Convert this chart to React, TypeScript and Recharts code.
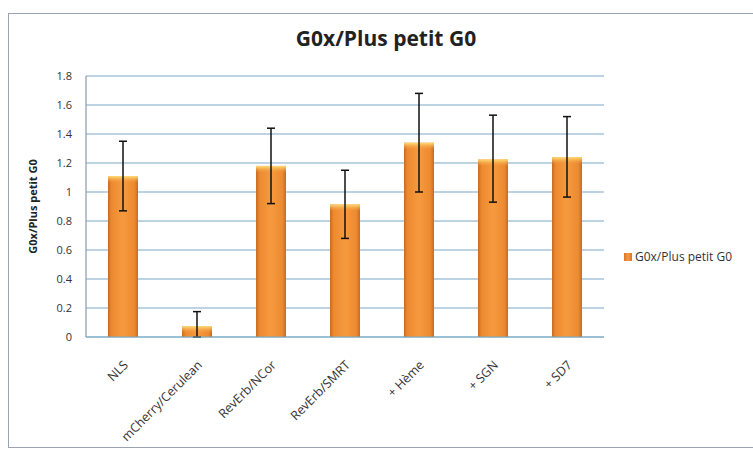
import React from 'react';
import { BarChart, Bar, XAxis, YAxis, CartesianGrid, ErrorBar, Legend } from 'recharts';

const categories = ['NLS', 'mCherry/Cerulean', 'RevErb/NCor', 'RevErb/SMRT', '+ Hème', '+ SGN', '+ SD7'];
const values = [1.11, 0.075, 1.18, 0.915, 1.34, 1.225, 1.24];
const errLow = [0.24, 0.075, 0.26, 0.235, 0.34, 0.295, 0.275];
const errHigh = [0.24, 0.1, 0.26, 0.235, 0.34, 0.305, 0.28];
const yTicks = [0, 0.2, 0.4, 0.6, 0.8, 1, 1.2, 1.4, 1.6, 1.8];
const seriesName = 'G0x/Plus petit G0';
const title = 'G0x/Plus petit G0';
const yTitle = 'G0x/Plus petit G0';

const data = categories.map((c, i) => ({ name: c, value: values[i], err: [errLow[i], errHigh[i]] }));

const FONT = '"Open Sans", Lato, sans-serif';

const BarShape = (props: any) => {
  const { x, y, width, height } = props;
  if (!height || height <= 0) return null;
  const hl = Math.min(7, height);
  return (
    <g>
      <rect x={x} y={y} width={width} height={height} fill="url(#barGrad)" />
      <rect x={x} y={y} width={width} height={hl} fill="url(#topGrad)" />
    </g>
  );
};

const XTick = (props: any) => {
  const { x, y, payload } = props;
  return (
    <g transform={`translate(${x + 3},${y + 18})`}>
      <text x={0} y={0} dy={4} textAnchor="end" transform="rotate(-45)" fontSize={12.5} fill="#333" fontFamily={FONT}>
        {payload.value}
      </text>
    </g>
  );
};

const YLabel = (props: any) => {
  const vb = props.viewBox || { x: 0, y: 0, width: 0, height: 0 };
  const cx = 37;
  const cy = vb.y + vb.height / 2;
  return (
    <text x={cx} y={cy} transform={`rotate(-90, ${cx}, ${cy})`} textAnchor="middle" fontSize={11} fontWeight="bold" fill="#222" fontFamily={FONT}>
      {yTitle}
    </text>
  );
};

const LegendContent = () => (
  <div style={{ display: 'flex', alignItems: 'center', fontFamily: FONT, fontSize: 12, color: '#333', whiteSpace: 'nowrap' }}>
    <span style={{ display: 'inline-block', width: 8, height: 8, background: 'linear-gradient(90deg,#d9762a,#f79a40,#d9762a)', marginRight: 3 }} />
    <span>{seriesName}</span>
  </div>
);

export default function App() {
  return (
    <div style={{ position: 'absolute', left: 0, top: 0, width: 753, height: 450, overflow: 'hidden', background: '#fff' }}>
      <div style={{ position: 'absolute', left: 8, top: 13, width: 760, height: 435, border: '1px solid #9aa4b0', boxSizing: 'border-box' }} />
      <div style={{ position: 'absolute', left: 236, top: 24, width: 300, textAlign: 'center', fontFamily: FONT, fontWeight: 'bold', fontSize: 21, color: '#222' }}>
        {title}
      </div>
      <div style={{ position: 'absolute', left: 0, top: 0 }}>
        <BarChart width={753} height={450} data={data} margin={{ top: 76, right: 149, left: 0, bottom: 0 }} barSize={30}>
          <defs>
            <linearGradient id="barGrad" x1="0" y1="0" x2="1" y2="0">
              <stop offset="0%" stopColor="#c96a22" />
              <stop offset="12%" stopColor="#ec8a30" />
              <stop offset="50%" stopColor="#f79a3e" />
              <stop offset="88%" stopColor="#ec8a30" />
              <stop offset="100%" stopColor="#c96a22" />
            </linearGradient>
            <linearGradient id="topGrad" x1="0" y1="0" x2="0" y2="1">
              <stop offset="0%" stopColor="#fde07a" />
              <stop offset="100%" stopColor="#f79a3e" stopOpacity={0} />
            </linearGradient>
          </defs>
          <CartesianGrid horizontal vertical={false} stroke="#7aaac6" strokeWidth={1.2} />
          <XAxis dataKey="name" interval={0} tick={<XTick />} tickLine={false} axisLine={{ stroke: '#7aaac6', strokeWidth: 1.2 }} height={113} />
          <YAxis
            width={86}
            domain={[0, 1.8]}
            ticks={yTicks}
            interval={0}
            tickSize={0}
            tickMargin={14}
            tickLine={false}
            axisLine={{ stroke: '#8a9aa8', strokeWidth: 1.2 }}
            tick={{ fontSize: 11, fill: '#333', fontFamily: FONT }}
            label={<YLabel />}
          />
          <Legend layout="vertical" align="center" verticalAlign="middle" wrapperStyle={{ position: 'absolute', left: 624, top: 248, width: 140 }} content={<LegendContent />} />
          <Bar dataKey="value" name={seriesName} shape={<BarShape />} isAnimationActive={false}>
            <ErrorBar dataKey="err" width={4} stroke="#111" strokeWidth={1.5} />
          </Bar>
        </BarChart>
      </div>
    </div>
  );
}
